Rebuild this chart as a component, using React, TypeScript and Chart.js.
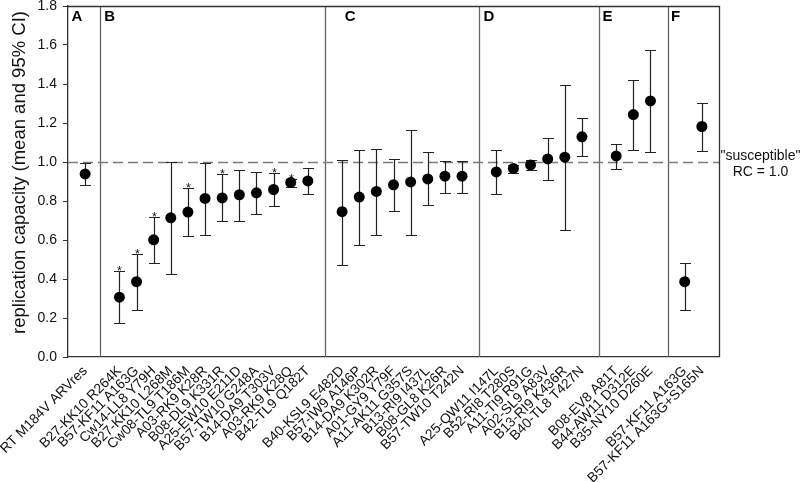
import React, { useEffect, useRef } from "react";
import { Chart, registerables } from "chart.js";

Chart.register(...registerables);

// ---- data ----
const groupLetters = ["A", "B", "C", "D", "E", "F"];

const labelsA = ["RT M184V ARVres"];
const meanA = [0.939];
const lowA = [0.883];
const highA = [0.997];
const starA = [false];

const labelsB = [
  "B27-KK10 R264K",
  "B57-KF11 A163G",
  "Cw14-LL8 Y79H",
  "B27-KK10 L268M",
  "Cw08-TL9 T186M",
  "A03-RK9 K28R",
  "B08-DL9 K331R",
  "A25-EW10 E211D",
  "B57-TW10 G248A",
  "B14-DA9 T303V",
  "A03-RK9 K28Q",
  "B42-TL9 Q182T",
];
const meanB = [0.307, 0.386, 0.601, 0.714, 0.743, 0.813, 0.816, 0.832, 0.842, 0.859, 0.895, 0.903];
const lowB = [0.173, 0.242, 0.48, 0.424, 0.618, 0.627, 0.7, 0.697, 0.733, 0.774, 0.874, 0.838];
const highB = [0.439, 0.529, 0.719, 1.0, 0.866, 0.997, 0.936, 0.961, 0.948, 0.943, 0.912, 0.97];
const starB = [true, true, true, false, true, false, true, false, false, true, true, false];

const labelsC = [
  "B40-KSL9 E482D",
  "B57-IW9 A146P",
  "B14-DA9 K302R",
  "A01-GY9 Y79F",
  "A11-AK11 G357S",
  "B13-RI9 I437L",
  "B08-GL8 K26R",
  "B57-TW10 T242N",
];
const meanC = [0.745, 0.82, 0.849, 0.883, 0.898, 0.913, 0.927, 0.927];
const lowC = [0.473, 0.574, 0.625, 0.75, 0.628, 0.779, 0.842, 0.842];
const highC = [1.009, 1.062, 1.069, 1.013, 1.166, 1.049, 1.006, 1.006];
const starC = [false, false, false, false, false, false, false, false];

const labelsD = [
  "A25-QW11 I147L",
  "B52-RI8 T280S",
  "A11-TI9 R91G",
  "A02-SL9 A83V",
  "B13-RI9 K436R",
  "B40-TL8 T427N",
];
const meanD = [0.949, 0.967, 0.985, 1.016, 1.025, 1.129];
const lowD = [0.835, 0.944, 0.958, 0.908, 0.652, 1.03];
const highD = [1.06, 0.987, 1.008, 1.122, 1.393, 1.226];
const starD = [false, false, false, false, false, false];

const labelsE = ["B08-EV8 A81T", "B44-AW11 D312E", "B35-NY10 D260E"];
const meanE = [1.031, 1.243, 1.313];
const lowE = [0.963, 1.06, 1.05];
const highE = [1.093, 1.419, 1.573];
const starE = [false, false, false];

const labelsF = ["B57-KF11 A163G", "B57-KF11 A163G+S165N"];
const meanF = [0.386, 1.182];
const lowF = [0.242, 1.055];
const highF = [0.48, 1.303];
const starF = [false, false];

const yTicks = [0, 0.2, 0.4, 0.6, 0.8, 1.0, 1.2, 1.4, 1.6, 1.8];
const referenceRC = 1.0;
const yTitle = "replication capacity (mean and 95% CI)";
const refNote = ['"susceptible"', "RC = 1.0"];

// ---- build category table (empty slot between groups) ----
const groups = [
  { l: labelsA, m: meanA, lo: lowA, hi: highA, s: starA },
  { l: labelsB, m: meanB, lo: lowB, hi: highB, s: starB },
  { l: labelsC, m: meanC, lo: lowC, hi: highC, s: starC },
  { l: labelsD, m: meanD, lo: lowD, hi: highD, s: starD },
  { l: labelsE, m: meanE, lo: lowE, hi: highE, s: starE },
  { l: labelsF, m: meanF, lo: lowF, hi: highF, s: starF },
];
const allLabels: string[] = [""];
const allMean: (number | null)[] = [null];
const allLow: (number | null)[] = [null];
const allHigh: (number | null)[] = [null];
const allStar: boolean[] = [false];
const separatorIdx: number[] = [];
const groupStartIdx: number[] = [];
groups.forEach((g, gi) => {
  if (gi > 0) {
    separatorIdx.push(allLabels.length);
    allLabels.push("");
    allMean.push(null);
    allLow.push(null);
    allHigh.push(null);
    allStar.push(false);
  }
  groupStartIdx.push(allLabels.length);
  g.l.forEach((lab, i) => {
    allLabels.push(lab);
    allMean.push(g.m[i]);
    allLow.push(g.lo[i]);
    allHigh.push(g.hi[i]);
    allStar.push(g.s[i]);
  });
});
allLabels.push("");
allMean.push(null);
allLow.push(null);
allHigh.push(null);
allStar.push(false);

const FONT = "'Liberation Sans', Arial, Helvetica, sans-serif";

const overlay = {
  id: "overlay",
  beforeDatasetsDraw(chart: any) {
    const { ctx, chartArea: a, scales } = chart;
    const x = scales.x;
    const y = scales.y;
    ctx.save();
    // group separators
    ctx.strokeStyle = "#666";
    ctx.lineWidth = 1.3;
    separatorIdx.forEach((idx, k) => {
      const v = k === 0 ? idx - 0.12 : idx;
      const px = Math.round(x.getPixelForValue(v)) + 0.5;
      ctx.beginPath();
      ctx.moveTo(px, a.top);
      ctx.lineTo(px, a.bottom);
      ctx.stroke();
    });
    // reference dashed line
    const py = Math.round(y.getPixelForValue(referenceRC)) + 0.5;
    ctx.setLineDash([10, 5]);
    ctx.strokeStyle = "#7a7a7a";
    ctx.lineWidth = 1.6;
    ctx.beginPath();
    ctx.moveTo(a.left, py);
    ctx.lineTo(a.right, py);
    ctx.stroke();
    ctx.setLineDash([]);
    // error bars
    ctx.strokeStyle = "#222";
    ctx.lineWidth = 1.2;
    const cap = 5.5;
    allMean.forEach((m, i) => {
      if (m === null) return;
      const px = Math.round(x.getPixelForValue(i)) + 0.5;
      const yl = Math.round(y.getPixelForValue(allLow[i] as number)) + 0.5;
      const yh = Math.round(y.getPixelForValue(allHigh[i] as number)) + 0.5;
      ctx.beginPath();
      ctx.moveTo(px, yl);
      ctx.lineTo(px, yh);
      ctx.moveTo(px - cap, yl);
      ctx.lineTo(px + cap, yl);
      ctx.moveTo(px - cap, yh);
      ctx.lineTo(px + cap, yh);
      ctx.stroke();
      if (allStar[i]) {
        ctx.fillStyle = "#111";
        ctx.font = `12.5px ${FONT}`;
        ctx.textAlign = "center";
        ctx.textBaseline = "alphabetic";
        ctx.fillText("*", px, yh + 3);
      }
    });
    ctx.restore();
  },
  afterDraw(chart: any) {
    const { ctx, chartArea: a, scales } = chart;
    const x = scales.x;
    const y = scales.y;
    ctx.save();
    // frame top & right
    ctx.strokeStyle = "#333";
    ctx.lineWidth = 1.3;
    ctx.beginPath();
    ctx.moveTo(a.left, Math.round(a.top) + 0.5);
    ctx.lineTo(Math.round(a.right) + 0.5, Math.round(a.top) + 0.5);
    ctx.lineTo(Math.round(a.right) + 0.5, a.bottom);
    ctx.stroke();
    // group letters
    ctx.fillStyle = "#000";
    ctx.font = `bold 15px ${FONT}`;
    ctx.textAlign = "left";
    ctx.textBaseline = "alphabetic";
    const letterIdx = [0.2, separatorIdx[0] + 0.12, groupStartIdx[2] + 0.15, separatorIdx[2] + 0.25, separatorIdx[3] + 0.2, separatorIdx[4] + 0.2];
    groupLetters.forEach((L, k) => {
      ctx.fillText(L, x.getPixelForValue(letterIdx[k]), a.top + 15);
    });
    // reference note
    ctx.font = `14px ${FONT}`;
    ctx.textAlign = "center";
    ctx.textBaseline = "middle";
    ctx.fillStyle = "#111";
    const ry = y.getPixelForValue(referenceRC);
    const cx = (a.right + chart.width) / 2 + 1;
    ctx.fillText(refNote[0], cx, ry - 6);
    ctx.fillText(refNote[1], cx, ry + 10);
    // y title
    ctx.translate(20, (a.top + a.bottom) / 2 - 9);
    ctx.rotate(-Math.PI / 2);
    ctx.font = `18.5px ${FONT}`;
    ctx.fillText(yTitle, 0, 0);
    ctx.restore();
  },
};

export default function App() {
  const ref = useRef<HTMLCanvasElement>(null);
  useEffect(() => {
    document.body.style.margin = "0";
    const chart = new Chart(ref.current as HTMLCanvasElement, {
      type: "line",
      data: {
        labels: allLabels,
        datasets: [
          {
            data: allMean,
            showLine: false,
            pointRadius: 5.5,
            pointHoverRadius: 5.5,
            pointBackgroundColor: "#000",
            pointBorderColor: "#000",
            pointBorderWidth: 0,
          },
        ],
      },
      options: {
        responsive: false,
        animation: false,
        events: [],
        layout: { padding: { top: 6, right: 81, left: 0, bottom: 0 } },
        plugins: { legend: { display: false }, tooltip: { enabled: false } },
        scales: {
          x: {
            type: "category",
            offset: false,
            grid: { display: false, drawTicks: false },
            border: { display: true, color: "#333", width: 1.3 },
            ticks: {
              autoSkip: false,
              minRotation: 45,
              maxRotation: 45,
              padding: 6,
              color: "#111",
              font: { family: FONT, size: 13.8 },
            },
            afterFit(scale: any) {
              scale.height = 125;
              scale.paddingLeft = 0;
              scale.paddingRight = 0;
            },
          },
          y: {
            min: 0,
            max: 1.8,
            grid: { drawOnChartArea: false, drawTicks: true, tickLength: 5, color: "#333" },
            border: { display: true, color: "#333", width: 1.3 },
            afterBuildTicks(scale: any) {
              scale.ticks = yTicks.map((v) => ({ value: v }));
            },
            ticks: {
              padding: 6,
              color: "#111",
              font: { family: FONT, size: 14 },
              callback: (v: any) => Number(v).toFixed(1),
            },
            afterFit(scale: any) {
              scale.width = 68;
              scale.paddingTop = 0;
              scale.paddingBottom = 0;
            },
          },
        },
      },
      plugins: [overlay],
    });
    return () => chart.destroy();
  }, []);
  return <canvas ref={ref} width={800} height={482} style={{ display: "block" }} />;
}
